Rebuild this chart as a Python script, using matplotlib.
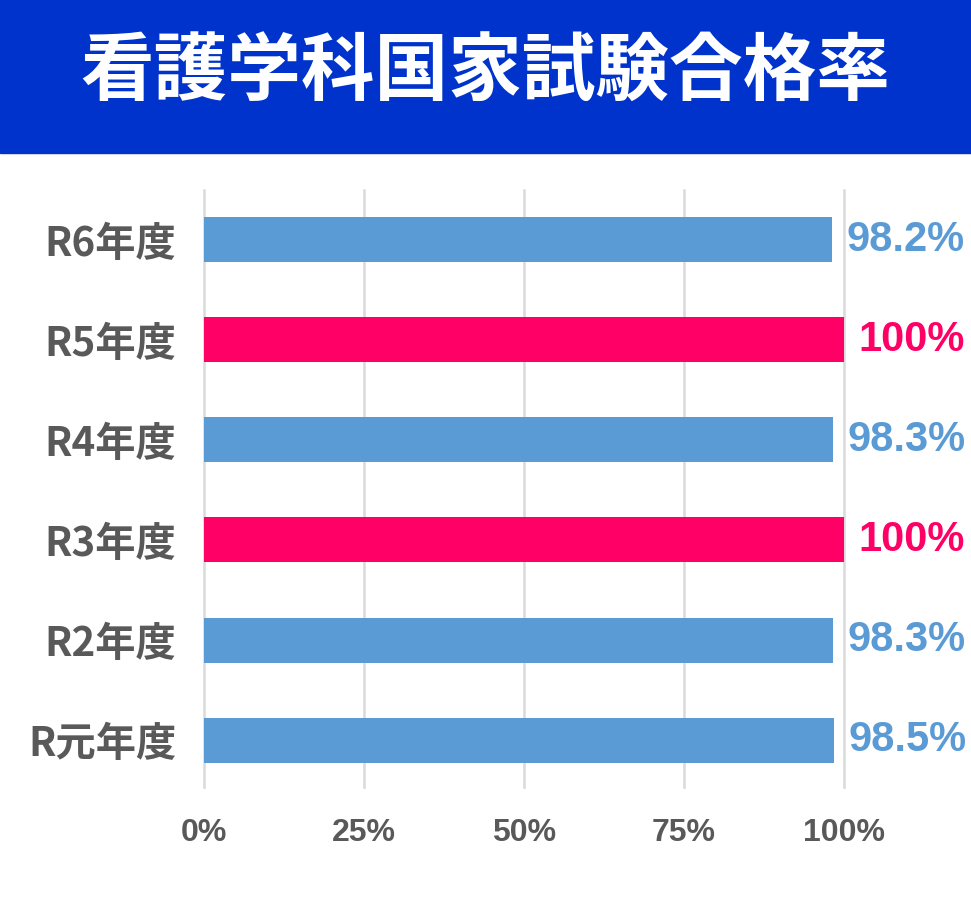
import matplotlib
matplotlib.use("Agg")
import matplotlib.pyplot as plt
from matplotlib.patches import Rectangle

plt.rcParams['font.family'] = ['Noto Sans CJK JP', 'DejaVu Sans']

# ── データ ─────────────────────────────────────────
years  = ['R元年度', 'R2年度', 'R3年度', 'R4年度', 'R5年度', 'R6年度']
rates  = [98.5, 98.3, 100, 98.3, 100, 98.2]
labels = ['98.5%', '98.3%', '100%', '98.3%', '100%', '98.2%']
xticks = [0, 25, 50, 75, 100]
xtick_labels = ['0%', '25%', '50%', '75%', '100%']

BLUE   = '#5B9BD5'
PINK   = '#FF0066'
HEADER = '#0033CC'
GRAY   = '#595959'

colors = [PINK if r >= 100 else BLUE for r in rates]

fig = plt.figure(figsize=(9.71, 9.11), dpi=100)

# ヘッダー帯
fig.patches.append(Rectangle((0, 1 - 153 / 911), 1, 153 / 911,
                             transform=fig.transFigure, color=HEADER, zorder=0))
fig.text(0.5, 1 - 74 / 911, '看護学科国家試験合格率', color='white',
         fontsize=53, fontweight='bold', ha='center', va='center')

ax = fig.add_axes([204 / 971, 1 - 787 / 911, 640 / 971, 597 / 911])
ypos = list(range(len(years)))
ax.barh(ypos, rates, height=0.45, color=colors, zorder=3)

for y, r, lab, c in zip(ypos, rates, labels, colors):
    ax.annotate(lab, (r, y), xytext=(10, 0), textcoords='offset points',
                ha='left', va='center', color=c, fontsize=30, fontweight='bold',
                family=['Liberation Sans', 'DejaVu Sans'])

ax.set_xlim(0, 100)
ax.set_ylim(-0.47, 5.5)
ax.set_xticks(xticks)
ax.set_xticklabels(xtick_labels, fontsize=23, fontweight='bold', color=GRAY,
                   family=['Liberation Sans Narrow', 'Liberation Sans', 'DejaVu Sans'])
ax.set_yticks(ypos)
ax.set_yticklabels(years, fontsize=29, fontweight='bold', color=GRAY)
ax.tick_params(axis='x', length=0, pad=22)
ax.tick_params(axis='y', length=0, pad=20)

ax.grid(axis='x', color='#D9D9D9', linewidth=1.8, zorder=0)
for gl in ax.get_xgridlines():
    gl.set_clip_on(False)
for s in ax.spines.values():
    s.set_visible(False)

fig.savefig('out.png', dpi=100)
